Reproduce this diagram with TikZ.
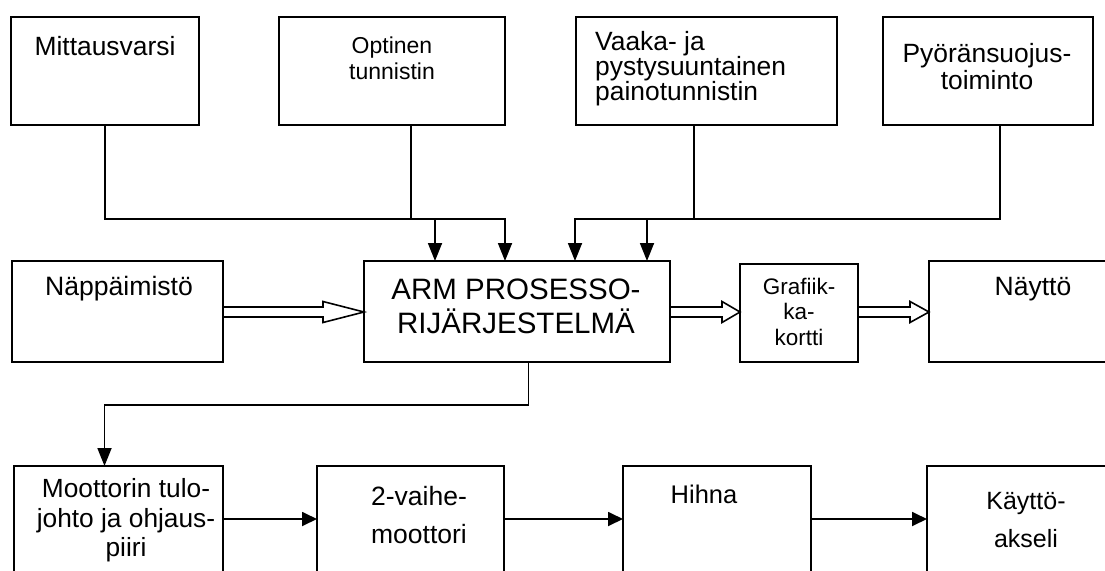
\documentclass[tikz,border=0pt]{standalone}
\usepackage{fontspec}
\setmainfont{Liberation Sans}
\usetikzlibrary{arrows.meta,calc}
\newcommand\mkbox[5]{\node[box, minimum width={#4pt-#2pt}, minimum height={#5pt-#3pt}] (#1) at ({(#2+#4)/2},{(#3+#5)/2}) {};}
\newcommand\fs[2]{\fontsize{#1}{#2}\selectfont}
\newcommand\hollowarr[3]{\draw[hollow] ($(#1)+(0,-5)$) -- ($(#2)+(-#3,-5)$) -- ($(#2)+(-#3,-10.5)$) -- (#2) -- ($(#2)+(-#3,10.5)$) -- ($(#2)+(-#3,5)$) -- ($(#1)+(0,5)$);}
\begin{document}
\begin{tikzpicture}[x=1pt,y=-1pt,
  box/.style={draw, line width=1.8pt, inner sep=0pt, outer sep=0pt},
  txt/.style={inner sep=0pt, anchor=base, align=center},
  conn/.style={line width=1.8pt, -{Triangle[length=18pt,width=14pt]}},
  connb/.style={line width=1.8pt, -{Triangle[length=15pt,width=14pt]}},
  hollow/.style={line width=1.6pt, line join=miter}]
\clip (0,0) rectangle (1105,570);
\fill[white] (0,0) rectangle (1105,570);
% boxes
\mkbox{mit}{11}{17}{199}{125}
\mkbox{opt}{279}{17}{505}{125}
\mkbox{vaa}{576}{17}{837}{125}
\mkbox{pyo}{883}{17}{1093}{125}
\mkbox{nap}{12}{261}{223}{362}
\mkbox{arm}{364}{261}{670}{362}
\mkbox{gra}{740}{264}{858}{362}
\mkbox{nay}{929}{261}{1120}{362}
\mkbox{moo}{14}{466}{223}{600}
\mkbox{vai}{317}{466}{504}{600}
\mkbox{hih}{623}{466}{811}{600}
\mkbox{kay}{927}{466}{1120}{600}
% texts (base anchor = baseline of the last line)
\node[txt, font=\fs{26.4}{30}] (mitt) at (105,55) {Mittausvarsi};
\node[txt, font=\fs{23}{26}] (optt) at (392,79.5) {Optinen\\tunnistin};
\node[txt, anchor=base west, align=left, font=\fs{26.4}{25}] (vaat) at (595,100.4) {Vaaka- ja\\pystysuuntainen\\painotunnistin};
\node[txt, font=\fs{26.4}{27}] (pyot) at (987,89.6) {Pyöränsuojus-\\toiminto};
\node[txt, font=\fs{26.6}{30}] (napt) at (119,295) {Näppäimistö};
\node[txt, font=\fs{29.5}{34}] (armt) at (516,333.3) {ARM PROSESSO-\\RIJÄRJESTELMÄ};
\node[txt, font=\fs{22.5}{25.5}] (grat) at (799,345) {Grafiik-\\ka-\\kortti};
\node[txt, font=\fs{26.5}{30}] (nayt) at (1033,295.7) {Näyttö};
\node[txt, font=\fs{26.3}{29.7}] (moot) at (126,556.7) {Moottorin tulo-\\johto ja ohjaus-\\piiri};
\node[txt, font=\fs{26.5}{38}] (vait) at (419,543) {2-vaihe-\\moottori};
\node[txt, font=\fs{25.5}{30}] (hiht) at (704,503) {Hihna};
\node[txt, font=\fs{25}{38}] (kayt) at (1026,547.5) {Käyttö-\\akseli};
% input connectors
\coordinate (in1) at ($(arm.north west)+(71,0)$);
\coordinate (in2) at ($(arm.north west)+(141,0)$);
\coordinate (in3) at ($(arm.north west)+(211,0)$);
\coordinate (in4) at ($(arm.north west)+(283,0)$);
\draw[conn] (mit.south) |- ($(in1)+(0,-42)$) -- (in1);
\draw[conn] ($(opt.south)+(18.7,0)$) |- ($(in2)+(0,-42)$) -- (in2);
\draw[conn] ($(vaa.south)+(-12.5,0)$) |- ($(in3)+(0,-42)$) -- (in3);
\draw[conn] ($(pyo.south)+(12,0)$) |- ($(in4)+(0,-42)$) -- (in4);
% hollow arrows
\coordinate (hy) at (0,312);
\coordinate (h1s) at (nap.east |- hy);
\coordinate (h1e) at (arm.west |- hy);
\coordinate (h2s) at (arm.east |- hy);
\coordinate (h2e) at (gra.west |- hy);
\coordinate (h3s) at (gra.east |- hy);
\coordinate (h3e) at (nay.west |- hy);
\hollowarr{h1s}{h1e}{41}
\hollowarr{h2s}{h2e}{18}
\hollowarr{h3s}{h3e}{19}
% ARM to motor driver
\draw[conn] ($(arm.south)+(11.5,0)$) -- ++(0,42.6) -| ($(moo.north)+(-14,0)$);
% bottom chain
\coordinate (ry) at (0,519);
\draw[connb] (moo.east |- ry) -- (vai.west |- ry);
\draw[connb] (vai.east |- ry) -- (hih.west |- ry);
\draw[connb] (hih.east |- ry) -- (kay.west |- ry);
\end{tikzpicture}
\end{document}
